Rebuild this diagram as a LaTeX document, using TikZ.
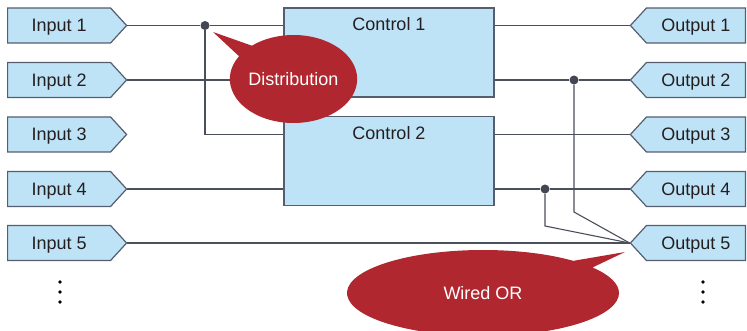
\documentclass[tikz,border=0pt]{standalone}
\usepackage{fontspec}
\setmainfont{Liberation Sans}
\usetikzlibrary{shapes.symbols, shapes.callouts, positioning}
\definecolor{boxblue}{HTML}{BEE3F7}
\definecolor{edgegrey}{HTML}{565D6E}
\definecolor{wiregrey}{HTML}{4B4F5C}
\definecolor{bubblered}{HTML}{B1272F}
\definecolor{textgrey}{HTML}{231F20}
\tikzset{
  x=1pt, y=-1pt, % pixel grid of the original figure
  labelfont/.style={font=\fontsize{18}{20}\selectfont, text height=13pt, text depth=0pt},
  port/.style={signal, draw=edgegrey, fill=boxblue, line width=1.2pt,
    minimum width=119pt, minimum height=35pt, signal pointer angle=95,
    text=textgrey, labelfont, inner sep=0pt},
  inport/.style={port, signal to=east, anchor=west},
  outport/.style={port, signal to=west, anchor=east, minimum width=115pt},
  ctrl/.style={rectangle, draw=edgegrey, fill=boxblue, line width=1.2pt,
    minimum width=210pt, minimum height=89pt},
  ctrllabel/.style={anchor=north, inner sep=0pt, yshift=-10pt, text=textgrey, labelfont},
  wire/.style={draw=wiregrey, line width=1.1pt},
  junction/.style={circle, fill=wiregrey!90!black, inner sep=0pt, minimum size=9pt},
  bubble/.style={ellipse callout, fill=bubblered, text=white, labelfont, inner sep=0pt},
}
\begin{document}
\begin{tikzpicture}
  \useasboundingbox (0,0) rectangle (747,331);
  \clip (0,0) rectangle (747,331);

  % inputs
  \node[inport] (in1) at (7,25.5) {Input 1};
  \node[inport] (in2) at (7,80) {Input 2};
  \node[inport] (in3) at (7,134.5) {Input 3};
  \node[inport] (in4) at (7,189) {Input 4};
  \node[inport] (in5) at (7,243) {Input 5};

  % outputs
  \node[outport] (out1) at (746,25.5) {Output 1};
  \node[outport] (out2) at (746,80) {Output 2};
  \node[outport] (out3) at (746,134.5) {Output 3};
  \node[outport] (out4) at (746,189) {Output 4};
  \node[outport] (out5) at (746,243) {Output 5};

  % control blocks
  \node[ctrl, label={[ctrllabel]north:Control 1}] (c1) at (389,52.5) {};
  \node[ctrl, label={[ctrllabel]north:Control 2}] (c2) at (389,161) {};

  % junctions
  \node[junction] (j1) at (205,25.5) {};
  \node[junction] (j2) at (574,80) {};
  \node[junction] (j3) at (545,189) {};

  % left side wiring
  \draw[wire] (in1.east) -- (j1) -- (j1 -| c1.west);
  \draw[wire] (j1) |- (in3 -| c2.west);
  \draw[wire] (in2.east) -- (in2 -| c1.west);
  \draw[wire] (in4.east) -- (in4 -| c2.west);
  \draw[wire] (in5.east) -- (out5.west);

  % right side wiring
  \draw[wire] (out1 -| c1.east) -- (out1.west);
  \draw[wire] (out2 -| c1.east) -- (j2) -- (out2.west);
  \draw[wire] (out3 -| c2.east) -- (out3.west);
  \draw[wire] (out4 -| c2.east) -- (j3) -- (out4.west);
  \draw[wire] (j2) -- ++(0,132) -- (out5.west);
  \draw[wire] (j3) -- ++(0,37) -- (out5.west);

  % callouts
  \node[bubble, minimum width=121pt, minimum height=88pt,
    callout absolute pointer={(213,32)}, callout pointer arc=18] (distr)
    at (293.5,79) {Distribution};
  \node[bubble, minimum width=272pt, minimum height=86pt,
    callout absolute pointer={(625,252)}, callout pointer arc=12] (wor)
    at (483,293) {Wired OR};

  % more ports follow
  \foreach \y in {282,292,302} {
    \fill[black] (60,\y) circle (1.8pt);
    \fill[black] (703,\y) circle (1.8pt);
  }
\end{tikzpicture}
\end{document}
